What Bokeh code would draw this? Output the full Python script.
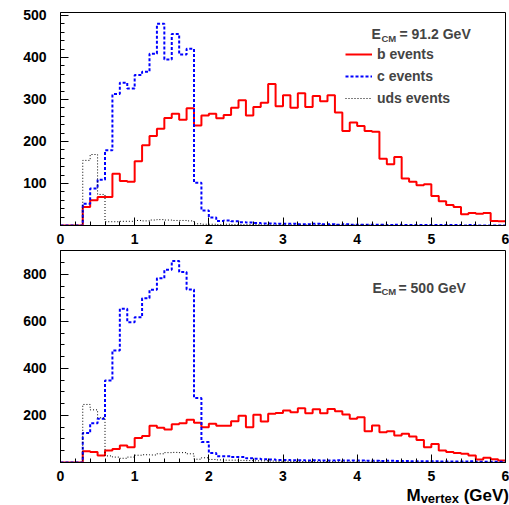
import numpy as np
from bokeh.plotting import figure
from bokeh.layouts import column
from bokeh.models import Range1d, FixedTicker, Label, Legend, LegendItem, Div
from bokeh.embed import file_html
from bokeh.resources import INLINE

# ---- data: histogram bin edges (0.1 GeV bins from 0 to 6) ----
bin_edges = np.round(np.arange(0, 6.0001, 0.1), 2)

# E_CM = 91.2 GeV
b_912 = [0, 0, 0, 44, 60, 68, 68, 123, 106, 104,
         153, 191, 213, 230, 256, 266, 252, 279, 238, 262,
         266, 255, 263, 280, 298, 262, 282, 292, 337, 284,
         310, 280, 315, 282, 308, 296, 310, 269, 225, 245,
         237, 225, 223, 159, 146, 163, 112, 104, 96, 98,
         70, 58, 49, 44, 27, 30, 28, 30, 11, 10]
c_912 = [0, 0, 0, 52, 88, 109, 179, 313, 340, 326,
         358, 366, 409, 480, 395, 456, 407, 421, 102, 36,
         19, 11, 12, 10, 8, 7, 6, 5, 5, 4,
         4, 4, 3, 3, 4, 3, 3, 2, 3, 2,
         2, 2, 2, 2, 1, 2, 1, 1, 1, 1,
         1, 1, 1, 1, 0, 1, 0, 0, 0, 0]
uds_912 = [0, 0, 0, 155, 169, 74, 9, 9, 10, 10,
           12, 11, 13, 14, 13, 12, 12, 11, 4, 3,
           3, 2, 3, 2, 2, 2, 2, 1, 1, 1,
           1, 1, 1, 1, 1, 1, 1, 1, 1, 1,
           1, 1, 0, 1, 0, 0, 0, 0, 0, 0,
           0, 0, 0, 0, 0, 0, 0, 0, 0, 0]

# E_CM = 500 GeV
b_500 = [0, 0, 0, 48, 45, 30, 51, 57, 72, 65,
         104, 113, 156, 148, 140, 163, 167, 182, 169, 150,
         165, 156, 156, 176, 199, 150, 203, 174, 207, 211,
         221, 214, 231, 210, 227, 210, 228, 218, 204, 186,
         193, 133, 157, 129, 133, 115, 122, 111, 96, 65,
         79, 51, 45, 40, 37, 30, 13, 20, 14, 9]
c_500 = [0, 0, 0, 125, 167, 186, 349, 477, 654, 597,
         618, 699, 735, 784, 820, 857, 810, 736, 274, 87,
         40, 27, 27, 23, 23, 18, 16, 14, 13, 11,
         11, 10, 10, 9, 10, 9, 9, 10, 8, 8,
         8, 7, 7, 6, 7, 6, 6, 5, 5, 5,
         5, 4, 4, 4, 4, 5, 3, 3, 3, 3]
uds_500 = [0, 0, 0, 247, 224, 190, 28, 23, 18, 23,
           31, 33, 32, 37, 42, 43, 42, 37, 14, 20,
           13, 11, 10, 10, 9, 8, 7, 7, 6, 5,
           5, 4, 4, 4, 3, 3, 3, 3, 2, 2,
           2, 2, 2, 2, 1, 1, 1, 1, 1, 1,
           1, 1, 1, 1, 1, 1, 1, 1, 1, 1]

x_ticks = [0, 1, 2, 3, 4, 5, 6]
y_ticks_top = [100, 200, 300, 400, 500]
y_ticks_bot = [200, 400, 600, 800]

FONT = "Liberation Sans"


def style(p, yticks, yminor):
    p.toolbar_location = None
    p.xgrid.visible = False
    p.ygrid.visible = False
    p.outline_line_color = "black"
    p.outline_line_width = 1
    p.background_fill_color = "white"
    p.border_fill_color = "white"
    p.xaxis.ticker = FixedTicker(ticks=x_ticks, minor_ticks=list(np.round(np.arange(0, 6.01, 0.2), 2)))
    p.yaxis.ticker = FixedTicker(ticks=yticks, minor_ticks=yminor)
    for ax in (p.xaxis[0], p.yaxis[0]):
        ax.axis_line_color = "black"
        ax.axis_line_width = 1
        ax.major_tick_in = 8
        ax.major_tick_out = 0
        ax.minor_tick_in = 4
        ax.minor_tick_out = 0
        ax.major_tick_line_color = "black"
        ax.minor_tick_line_color = "black"
        ax.major_label_text_font = FONT
        ax.major_label_text_font_size = "14px"
        ax.major_label_text_font_style = "bold"
        ax.major_label_text_color = "black"
    p.yaxis.major_label_standoff = 14
    p.xaxis.major_label_standoff = 8


def hist(p, vals, **kw):
    y = list(vals) + [vals[-1]]
    return p.step(list(bin_edges), y, mode="after", **kw)


def sub_label(p, x, y, main, sub, rest, xsub, xrest, ysub):
    p.add_layout(Label(x=x, y=y, x_units="screen", y_units="screen", text=main,
                       text_font=FONT, text_font_size="14px", text_font_style="bold",
                       text_baseline="alphabetic"))
    p.add_layout(Label(x=xsub, y=ysub, x_units="screen", y_units="screen", text=sub,
                       text_font=FONT, text_font_size="9.5px", text_font_style="bold",
                       text_baseline="alphabetic"))
    p.add_layout(Label(x=xrest, y=y, x_units="screen", y_units="screen", text=rest,
                       text_font=FONT, text_font_size="14px", text_font_style="bold",
                       text_baseline="alphabetic"))


# ---------------- top panel ----------------
p1 = figure(width=509, height=250, output_backend="svg", toolbar_location=None,
            x_range=Range1d(0, 6), y_range=Range1d(0, 507),
            min_border_left=60, min_border_right=4, min_border_top=12, min_border_bottom=25)
style(p1, y_ticks_top, list(range(0, 506, 20)))
rb = hist(p1, b_912, line_color="#ff0000", line_width=2)
rc = hist(p1, c_912, line_color="#0000ff", line_width=2, line_dash="3 2")
ru = hist(p1, uds_912, line_color="black", line_width=1, line_dash="1 2")

leg = Legend(items=[LegendItem(label="b events", renderers=[rb]),
                    LegendItem(label="c events", renderers=[rc]),
                    LegendItem(label="uds events", renderers=[ru])],
             location=(285, 117), padding=0, margin=0, spacing=2,
             glyph_width=27, glyph_height=20, label_height=20, label_standoff=5,
             label_text_font=FONT, label_text_font_size="14px", label_text_font_style="bold",
             border_line_alpha=0, background_fill_alpha=0)
p1.add_layout(leg, "center")
sub_label(p1, 311, 192, "E", "CM", "= 91.2 GeV", 321, 339, 187)

# ---------------- bottom panel ----------------
p2 = figure(width=509, height=237, output_backend="svg", toolbar_location=None,
            x_range=Range1d(0, 6), y_range=Range1d(0, 902),
            min_border_left=60, min_border_right=4, min_border_top=0, min_border_bottom=25)
style(p2, y_ticks_bot, list(range(0, 901, 50)))
hist(p2, b_500, line_color="#ff0000", line_width=2)
hist(p2, c_500, line_color="#0000ff", line_width=2, line_dash="3 2")
hist(p2, uds_500, line_color="black", line_width=1, line_dash="1 2")
sub_label(p2, 312, 175, "E", "CM", "= 500 GeV", 321, 338, 171)

# x-axis title with subscript
title = Div(text="M<span style='font-size:13px; position:relative; top:2px'>vertex</span> (GeV)",
            width=509, height=18, margin=(0, 0, 0, 0),
            styles={"font-family": FONT, "font-weight": "bold", "font-size": "17px",
                    "text-align": "right", "line-height": "18px", "color": "black",
                    "white-space": "nowrap"})

layout = column(p1, p2, title, spacing=0)
open("out.html", "w").write(file_html(layout, INLINE))
